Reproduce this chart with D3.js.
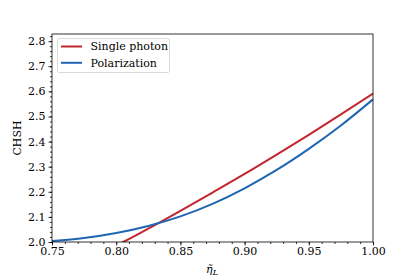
<!DOCTYPE html>
<html><head><meta charset="utf-8">
<script src="https://cdn.jsdelivr.net/npm/d3@7"></script>
<style>
html,body{margin:0;padding:0;background:#fff;}
</style></head>
<body>
<svg id="chart" width="415" height="277"></svg>
<script>
const seriesNames = ["Single photon", "Polarization"];
const seriesColors = ["#c1272d", "#1f66b1"];
const etaSingle = [0.80, 0.8055, 0.825, 0.85, 0.875, 0.90, 0.925, 0.95, 0.975, 1.00];
const chshSingle = [1.985, 2.000, 2.053, 2.124, 2.197, 2.271, 2.348, 2.427, 2.508, 2.591];
const etaPol = [0.75, 0.775, 0.80, 0.825, 0.85, 0.875, 0.90, 0.925, 0.95, 0.975, 1.00];
const chshPol = [2.004, 2.016, 2.036, 2.064, 2.102, 2.152, 2.214, 2.287, 2.371, 2.464, 2.568];
const xTicks = [0.75, 0.80, 0.85, 0.90, 0.95, 1.00];
const yTicks = [2.0, 2.1, 2.2, 2.3, 2.4, 2.5, 2.6, 2.7, 2.8];

const FONT = "'DejaVu Serif'";
const svg = d3.select("#chart");
const L = 52, R = 373, T = 34, B = 242;
const x = d3.scaleLinear().domain([0.75, 1.0]).range([L, R]);
const y = d3.scaleLinear().domain([2.0, 2 * Math.SQRT2]).range([B, T]);

svg.append("defs").append("clipPath").attr("id", "clip")
  .append("rect").attr("x", L).attr("y", T).attr("width", R - L).attr("height", B - T);

const xMinor = d3.range(0, 26).map(i => 0.75 + i * 0.01);
const yMinor = d3.range(0, 42).map(i => 2.0 + i * 0.02).filter(v => v <= 2 * Math.SQRT2);
const gx = svg.append("g").attr("transform", `translate(0,${B})`);
gx.call(d3.axisBottom(x).tickValues(xMinor).tickSize(2).tickFormat(""));
gx.select(".domain").remove();
const gx2 = svg.append("g").attr("transform", `translate(0,${B})`);
gx2.call(d3.axisBottom(x).tickValues(xTicks).tickSize(3.5).tickPadding(2).tickFormat(d3.format(".2f")));
gx2.select(".domain").remove();

const gy = svg.append("g").attr("transform", `translate(${L},0)`);
gy.call(d3.axisLeft(y).tickValues(yMinor).tickSize(2).tickFormat(""));
gy.select(".domain").remove();
const gy2 = svg.append("g").attr("transform", `translate(${L},0)`);
gy2.call(d3.axisLeft(y).tickValues(yTicks).tickSize(3.5).tickPadding(3).tickFormat(d3.format(".1f")));
gy2.select(".domain").remove();
svg.selectAll(".tick line").attr("stroke", "#000").attr("stroke-width", 0.8);

const line = d3.line().x(d => x(d[0])).y(d => y(d[1])).curve(d3.curveMonotoneX);
const plot = svg.append("g").attr("clip-path", "url(#clip)");
const dataSets = [
  etaSingle.map((e, i) => [e, chshSingle[i]]),
  etaPol.map((e, i) => [e, chshPol[i]])
];
dataSets.forEach((ds, i) => {
  plot.append("path").datum(ds).attr("d", line)
    .attr("fill", "none").attr("stroke", seriesColors[i]).attr("stroke-width", 2);
});

svg.append("rect").attr("x", L).attr("y", T).attr("width", R - L).attr("height", B - T)
  .attr("fill", "none").attr("stroke", "#000").attr("stroke-width", 0.8);

const lg = svg.append("g");
lg.append("rect").attr("x", 57.5).attr("y", 38.5).attr("width", 112).attr("height", 34).attr("rx", 2)
  .attr("fill", "#fff").attr("fill-opacity", 0.8).attr("stroke", "#d0d0d0").attr("stroke-width", 0.8);
seriesNames.forEach((n, i) => {
  const yy = 46.5 + i * 16.3;
  lg.append("line").attr("x1", 61).attr("x2", 82).attr("y1", yy).attr("y2", yy)
    .attr("stroke", seriesColors[i]).attr("stroke-width", 2);
  lg.append("text").attr("x", 90.5).attr("y", yy).attr("dy", "0.35em").text(n);
});

svg.append("text").attr("transform", `translate(17,${(T + B) / 2}) rotate(-90)`)
  .attr("text-anchor", "middle").attr("dy", "0.35em").text("CHSH");
const xl = svg.append("text").attr("x", 212).attr("y", 273).attr("text-anchor", "middle")
  .style("font-style", "italic");
xl.append("tspan").text("\u03B7\u0303");
xl.append("tspan").style("font-size", "8px").attr("dy", 2).text("L");

svg.selectAll("text").attr("fill", "#000")
  .style("font-family", FONT)
  .filter(function () { return !this.style.fontSize; }).style("font-size", "11px");
</script>
</body></html>
